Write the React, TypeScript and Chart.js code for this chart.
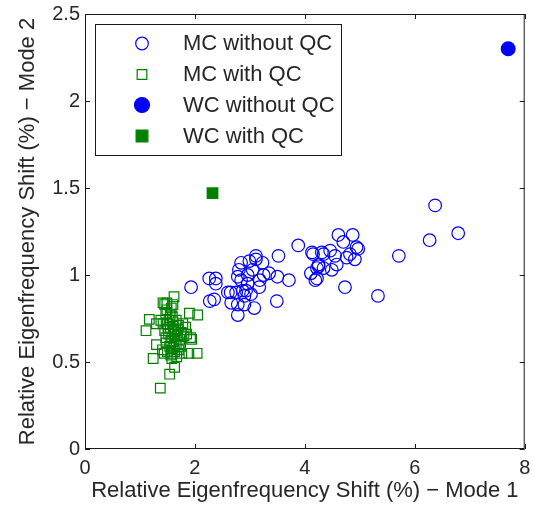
import React, { useEffect, useRef } from "react";
import { Chart, registerables } from "chart.js";

Chart.register(...registerables);

const FONT = '"Liberation Sans", Arial, Helvetica, sans-serif';
const TEXT = "#262626";

const xTicks = [0, 2, 4, 6, 8];
const yTicks = [0, 0.5, 1, 1.5, 2, 2.5];
const xTitle = "Relative Eigenfrequency Shift (%) \u2212 Mode 1";
const yTitle = "Relative Eigenfrequency Shift (%) \u2212 Mode 2";
const seriesNames = ["MC without QC", "MC with QC", "WC without QC", "WC with QC"];

// MC without QC (open blue circles)
const mcNoQcX = [6.37, 6.79, 6.27, 5.71, 5.33, 4.73, 4.61, 4.87, 4.70, 4.94, 4.97, 4.46, 4.34, 4.82, 4.91, 4.55, 4.58, 4.49, 4.25, 4.22, 4.76, 1.93, 2.26, 2.38, 2.38, 2.27, 2.35, 2.65, 2.60, 2.66, 2.78, 2.78, 3.08, 2.90, 3.49, 2.84, 2.99, 3.11, 3.11, 2.80, 2.78, 2.84, 2.96, 3.23, 3.35, 3.50, 3.71, 3.52, 2.96, 2.93, 3.02, 3.17, 2.90, 2.75, 3.88, 4.13, 4.15, 4.31, 4.25, 4.22, 4.11, 4.19, 4.34, 3.05, 3.18, 2.87, 3.25];
const mcNoQcY = [1.40, 1.24, 1.20, 1.11, 0.88, 0.93, 1.23, 1.23, 1.19, 1.16, 1.15, 1.14, 1.12, 1.12, 1.09, 1.11, 1.06, 1.03, 1.05, 0.98, 1.10, 0.93, 0.98, 0.98, 0.95, 0.85, 0.86, 0.90, 0.90, 0.84, 0.77, 0.83, 0.81, 0.83, 0.85, 1.07, 1.08, 1.11, 1.09, 1.03, 0.99, 0.97, 1.00, 1.07, 1.01, 0.99, 0.97, 1.11, 0.95, 0.91, 0.89, 0.93, 0.88, 0.90, 1.17, 1.13, 1.12, 1.13, 1.06, 1.04, 1.01, 0.97, 1.04, 1.03, 0.97, 0.91, 1.00];

// MC with QC (open green squares)
const mcQcX = [1.62, 1.45, 1.60, 1.47, 1.17, 1.90, 2.05, 1.11, 1.30, 1.38, 1.92, 1.94, 1.89, 2.04, 1.24, 1.63, 1.54, 1.37, 1.30, 1.41, 1.56, 1.74, 1.83, 1.85, 1.42, 1.49, 1.50, 1.55, 1.60, 1.65, 1.70, 1.52, 1.58, 1.62, 1.68, 1.72, 1.48, 1.54, 1.60, 1.66, 1.75, 1.45, 1.50, 1.57, 1.63, 1.70, 1.53, 1.59, 1.66, 1.78, 1.47, 1.56, 1.64, 1.69, 1.73, 1.51, 1.61, 1.55, 1.42, 1.58, 1.67, 1.44, 1.80, 1.76, 1.49, 1.57];
const mcQcY = [0.875, 0.83, 0.83, 0.78, 0.745, 0.78, 0.77, 0.68, 0.72, 0.74, 0.64, 0.63, 0.55, 0.55, 0.52, 0.47, 0.43, 0.35, 0.60, 0.57, 0.54, 0.59, 0.70, 0.66, 0.84, 0.84, 0.72, 0.70, 0.73, 0.68, 0.71, 0.66, 0.64, 0.62, 0.65, 0.63, 0.61, 0.59, 0.58, 0.60, 0.67, 0.68, 0.56, 0.55, 0.56, 0.57, 0.74, 0.76, 0.74, 0.72, 0.64, 0.62, 0.66, 0.69, 0.60, 0.69, 0.69, 0.77, 0.72, 0.52, 0.53, 0.55, 0.65, 0.55, 0.80, 0.81];

// WC without QC (filled blue circle)
const wcNoQcX = [7.70];
const wcNoQcY = [2.30];

// WC with QC (filled green square)
const wcQcX = [2.32];
const wcQcY = [1.47];

const toPoints = (xs: number[], ys: number[]) => xs.map((x, i) => ({ x, y: ys[i] }));

const BLUE = "#0000ff";
const GREEN = "#008000";

const markerStyles = [
  { shape: "circle", r: 6.3, fill: null as string | null, stroke: BLUE },
  { shape: "rect", r: 6.8, fill: null as string | null, stroke: GREEN },
  { shape: "circle", r: 7.5, fill: BLUE as string | null, stroke: BLUE },
  { shape: "rect", r: 8.3, fill: GREEN as string | null, stroke: GREEN },
];

const framePlugin = {
  id: "matlabFrame",
  afterDatasetsDraw(chart: any) {
    const { ctx, chartArea: a, scales } = chart;
    const xs = scales.x;
    const ys = scales.y;
    ctx.save();
    ctx.strokeStyle = "#1a1a1a";
    ctx.lineWidth = 1;
    ctx.strokeRect(a.left + 0.5, a.top + 0.5, a.right - a.left - 1, a.bottom - a.top - 1);
    ctx.beginPath();
    xTicks.forEach((v) => {
      const p = Math.round(xs.getPixelForValue(v)) + 0.5;
      ctx.moveTo(p, a.bottom);
      ctx.lineTo(p, a.bottom - 5);
      ctx.moveTo(p, a.top);
      ctx.lineTo(p, a.top + 5);
    });
    yTicks.forEach((v) => {
      const p = Math.round(ys.getPixelForValue(v)) + 0.5;
      ctx.moveTo(a.left, p);
      ctx.lineTo(a.left + 5, p);
      ctx.moveTo(a.right, p);
      ctx.lineTo(a.right - 5, p);
    });
    ctx.stroke();

    // legend box
    const bx = 95.5, by = 24.5, bw = 246, bh = 131;
    ctx.fillStyle = "#ffffff";
    ctx.fillRect(bx, by, bw, bh);
    ctx.strokeStyle = "#1a1a1a";
    ctx.strokeRect(bx, by, bw, bh);
    const rows = [43.5, 74.5, 105, 136];
    const mx = 142;
    seriesNames.forEach((name, i) => {
      const m = markerStyles[i];
      const y = rows[i];
      ctx.beginPath();
      if (m.shape === "circle") {
        ctx.arc(mx, y, m.r, 0, Math.PI * 2);
      } else {
        const s = m.r * Math.SQRT1_2;
        ctx.rect(mx - s, y - s, 2 * s, 2 * s);
      }
      if (m.fill) {
        ctx.fillStyle = m.fill;
        ctx.fill();
      }
      ctx.strokeStyle = m.stroke;
      ctx.lineWidth = 1.2;
      ctx.stroke();
      ctx.fillStyle = TEXT;
      ctx.font = `22px ${FONT}`;
      ctx.textAlign = "left";
      ctx.textBaseline = "middle";
      ctx.fillText(name, 183, y + 0.5);
    });
    ctx.restore();
  },
};

export default function App() {
  const ref = useRef<HTMLCanvasElement | null>(null);

  useEffect(() => {
    if (!ref.current) return;
    const ds = [
      toPoints(mcNoQcX, mcNoQcY),
      toPoints(mcQcX, mcQcY),
      toPoints(wcNoQcX, wcNoQcY),
      toPoints(wcQcX, wcQcY),
    ].map((data, i) => {
      const m = markerStyles[i];
      return {
        label: seriesNames[i],
        data,
        pointStyle: m.shape,
        pointRadius: m.r,
        pointHoverRadius: m.r,
        pointBorderWidth: m.fill ? 0 : 1.2,
        pointBackgroundColor: m.fill ? m.fill : "rgba(0,0,0,0)",
        pointBorderColor: m.stroke,
        borderColor: m.stroke,
        backgroundColor: m.fill ? m.fill : "rgba(0,0,0,0)",
        showLine: false,
        order: 4 - i,
      };
    });

    const chart = new Chart(ref.current, {
      type: "scatter",
      data: { datasets: ds as any },
      options: {
        animation: false,
        responsive: false,
        devicePixelRatio: 1,
        layout: { padding: { top: 14, right: 2, bottom: 0, left: 0 } },
        plugins: { legend: { display: false }, tooltip: { enabled: false } },
        scales: {
          x: {
            type: "linear",
            min: 0,
            max: 8,
            afterBuildTicks: (s: any) => {
              s.ticks = xTicks.map((v) => ({ value: v }));
            },
            afterFit: (s: any) => {
              s.height = 60;
              s.paddingLeft = 0;
              s.paddingRight = 0;
            },
            grid: { display: false, drawTicks: false },
            border: { display: false },
            ticks: {
              font: { family: FONT, size: 20 },
              color: TEXT,
              padding: 7,
              maxRotation: 0,
              autoSkip: false,
              callback: (v: any) => String(v),
            },
            title: {
              display: true,
              text: xTitle,
              font: { family: FONT, size: 22 },
              color: TEXT,
              padding: { top: 0, bottom: 5 },
            },
          },
          y: {
            type: "linear",
            min: 0,
            max: 2.5,
            afterBuildTicks: (s: any) => {
              s.ticks = yTicks.map((v) => ({ value: v }));
            },
            afterFit: (s: any) => {
              s.width = 85;
              s.paddingTop = 0;
              s.paddingBottom = 0;
            },
            grid: { display: false, drawTicks: false },
            border: { display: false },
            ticks: {
              font: { family: FONT, size: 20 },
              color: TEXT,
              padding: 5,
              autoSkip: false,
              callback: (v: any) => String(v),
            },
            title: {
              display: true,
              text: yTitle,
              font: { family: FONT, size: 22 },
              color: TEXT,
              padding: { top: 15, bottom: 0 },
            },
          },
        },
      },
      plugins: [framePlugin],
    });
    return () => chart.destroy();
  }, []);

  return (
    <div style={{ position: "fixed", left: 0, top: 0, width: 533, height: 509, background: "#fff" }}>
      <canvas ref={ref} width={533} height={509} />
    </div>
  );
}
